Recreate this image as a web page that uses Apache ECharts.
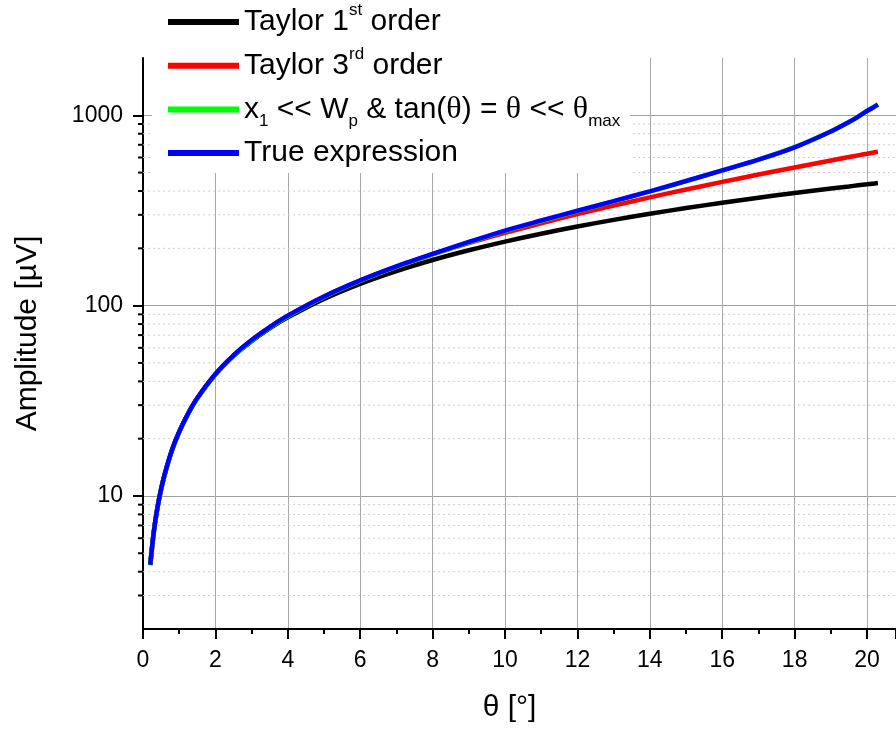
<!DOCTYPE html>
<html>
<head>
<meta charset="utf-8">
<script src="https://cdn.jsdelivr.net/npm/echarts@6/dist/echarts.min.js"></script>
<style>html,body{margin:0;padding:0;background:#fff;}#c{width:896px;height:729px;}</style>
</head>
<body>
<div id="c"></div>
<script>
const theta = [0.2,0.3,0.4,0.5,0.6,0.8,1,1.25,1.5,2,2.5,3,3.5,4,5,6,7,8,9,10,11,12,13,14,15,16,17,18,19,19.5,19.75,20,20.15,20.3];
const taylor1 = [4.34,6.51,8.68,10.85,13.0,17.4,21.7,27.1,32.6,43.4,54.3,65.1,76.0,86.8,108.5,130.2,151.9,173.6,195.3,217,238.7,260.4,282.1,303.8,325.5,347.2,368.9,390.6,412.3,423.0,428.6,434.0,437.3,440.5];
const taylor3 = [4.34,6.51,8.68,10.85,13.0,17.41,21.72,27.15,32.68,43.6,54.7,65.8,77.0,88.4,111.5,135.4,160.2,186.0,213.0,241.3,271.0,302.4,335.5,370.5,407.5,446.7,488.3,532.3,579.0,603.2,615.8,628.4,636.1,643.8];
const approx = [4.32,6.48,8.65,10.8,12.95,17.33,21.62,27.03,32.5,43.45,54.45,65.5,76.7,88.0,111.1,134.9,159.8,185.8,214.7,246.5,278.5,313.5,353.0,398.0,451.0,513.5,585.5,680,824,923,985,1058,1099,1143];
const trueExpr = [4.35,6.52,8.70,10.87,13.03,17.44,21.75,27.2,32.7,43.7,54.8,65.9,77.2,88.6,111.8,135.8,160.8,187.0,216.0,248.0,280.0,315.0,354.0,398.6,451.5,513.5,584.7,678.9,822.6,921.3,981.9,1053.3,1093,1137];
const seriesNames = ['Taylor 1st order','Taylor 3rd order','x1 << Wp & tan(θ) = θ << θmax','True expression'];
const legendRich = ['Taylor 1{sup|st} order','Taylor 3{sup|rd} order','x{sub|1} << W{sub|p} & tan({g|θ}) = {g|θ} << {g|θ}{sub|max}','True expression'];
const colors = ['#000000','#ff0000','#00ff00','#0000ff'];
const yMinorValues = [3,4,5,6,7,8,9,20,30,40,50,60,70,80,90,200,300,400,500,600,700,800,900];
const xMin = 0, xMax = 20.8, yMin = 2, yMax = 2000;

const chart = echarts.init(document.getElementById('c'));
const values = [taylor1, taylor3, approx, trueExpr];
const lineSeries = values.map((v, i) => ({
  name: seriesNames[i],
  type: 'line',
  data: theta.map((t, j) => [t, v[j]]),
  showSymbol: false,
  smooth: 0.3,
  lineStyle: { color: colors[i], width: 4.5 },
  itemStyle: { color: colors[i] },
  z: 3 + i
}));
const font = 'Liberation Sans, Arial, sans-serif';
chart.setOption({
  animation: false,
  grid: { left: 143, right: 0, top: 58, bottom: 100 },
  legend: {
    data: seriesNames,
    orient: 'vertical',
    left: 152, top: 0,
    padding: [2, 10, 0, 16],
    backgroundColor: '#ffffff',
    itemWidth: 71, itemHeight: 6, itemGap: 3.7,
    icon: 'rect',
    formatter: name => legendRich[seriesNames.indexOf(name)],
    textStyle: {
      fontFamily: font, fontSize: 30, lineHeight: 40, color: '#000',
      rich: {
        sup: { fontFamily: font, fontSize: 17, lineHeight: 17, verticalAlign: 'top', color: '#000' },
        sub: { fontFamily: font, fontSize: 17, lineHeight: 17, verticalAlign: 'bottom', color: '#000' },
        g: { fontFamily: 'Liberation Serif, serif', fontSize: 32, lineHeight: 30, color: '#000' }
      }
    }
  },
  xAxis: {
    type: 'value', min: xMin, max: xMax, interval: 2,
    name: 'θ [°]', nameLocation: 'middle', nameGap: 64,
    nameTextStyle: { fontFamily: font, fontSize: 30, color: '#000', padding: [0, 20, 0, 0] },
    axisLine: { lineStyle: { color: '#000', width: 2 } },
    axisTick: { length: 10, lineStyle: { color: '#000', width: 2 } },
    minorTick: { show: true, splitNumber: 2, length: 5, lineStyle: { color: '#000', width: 2 } },
    axisLabel: { fontFamily: font, fontSize: 23, color: '#000', margin: 20, showMaxLabel: false },
    splitLine: { show: true, showMinLine: false, showMaxLine: false, lineStyle: { color: '#a8a8a8', width: 1 } }
  },
  yAxis: {
    type: 'log', logBase: 10, min: yMin, max: yMax,
    name: 'Amplitude [µV]', nameLocation: 'middle', nameGap: 100, nameRotate: 90,
    nameTextStyle: { fontFamily: font, fontSize: 30, color: '#000', padding: [0, 0, 0, 20] },
    axisLine: { show: true, lineStyle: { color: '#000', width: 2 } },
    axisTick: { show: true, length: 10, lineStyle: { color: '#000', width: 2 } },
    axisLabel: { fontFamily: font, fontSize: 23, color: '#000', margin: 20, showMinLabel: false, showMaxLabel: false,
      formatter: v => String(Math.round(v)) },
    splitLine: { show: true, showMinLine: false, showMaxLine: false, lineStyle: { color: '#a0a0a0', width: 1 } }
  },
  series: [{
    type: 'custom',
    silent: true,
    clip: false,
    z: 1,
    data: yMinorValues.map(v => [xMin, v]),
    encode: { x: 0, y: 1 },
    renderItem: (params, api) => {
      const v = api.value(1);
      const p1 = api.coord([xMin, v]);
      const p2 = api.coord([xMax, v]);
      return {
        type: 'group',
        children: [
          { type: 'line', shape: { x1: p1[0], y1: p1[1], x2: p2[0], y2: p2[1] },
            style: { stroke: '#cfcfcf', lineWidth: 1, lineDash: [2, 3] } },
          { type: 'line', shape: { x1: p1[0] - 5, y1: p1[1], x2: p1[0], y2: p1[1] },
            style: { stroke: '#000', lineWidth: 2 } }
        ]
      };
    }
  }].concat(lineSeries)
});
</script>
</body>
</html>
